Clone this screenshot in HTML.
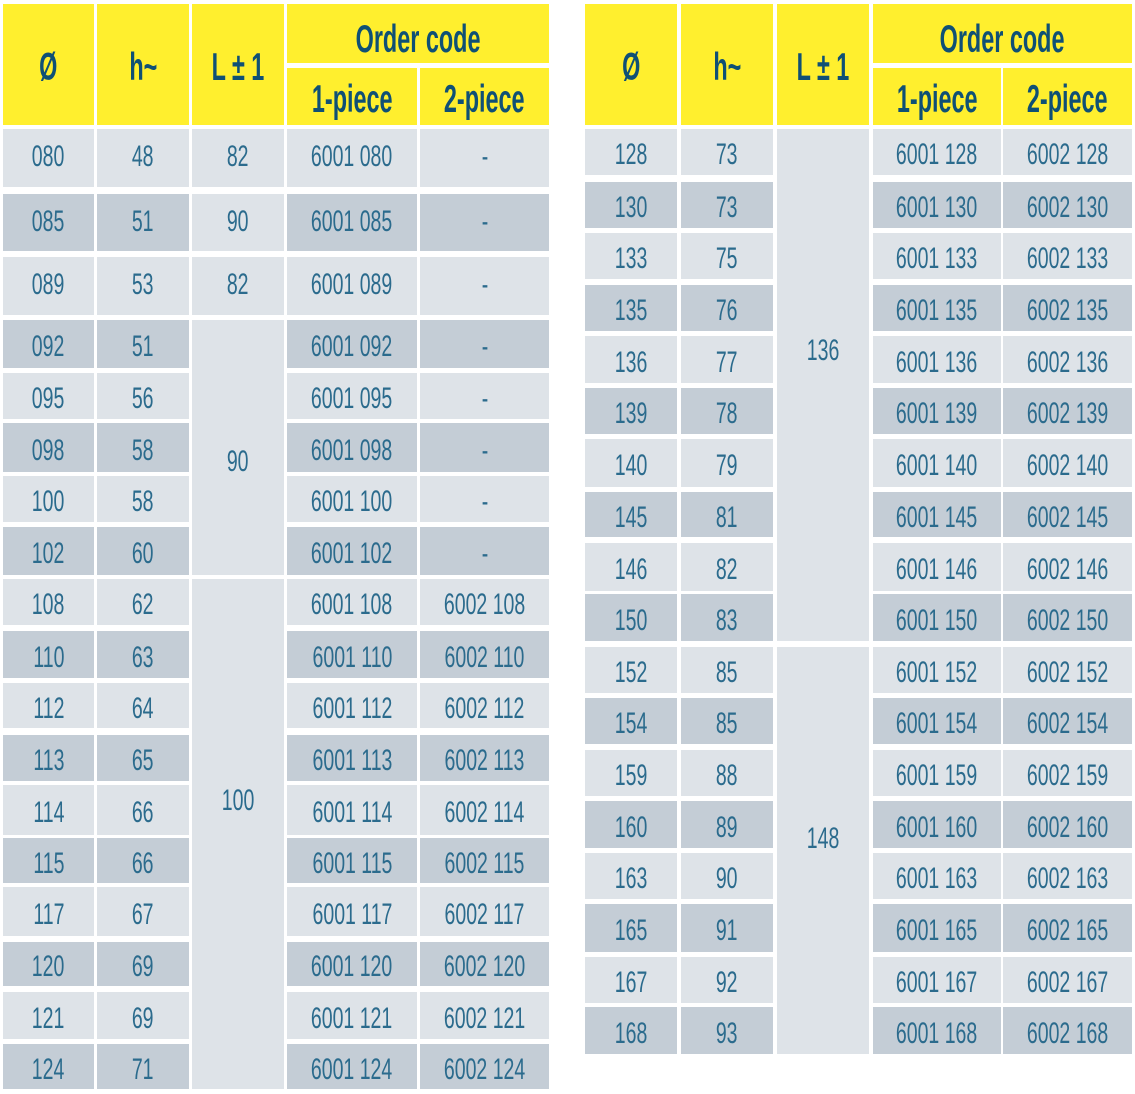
<!DOCTYPE html>
<html>
<head>
<meta charset="utf-8">
<style>
html,body{margin:0;padding:0;background:#fff;}
body{width:1135px;height:1094px;position:relative;overflow:hidden;font-family:"Liberation Sans",sans-serif;}
.c{position:absolute;display:flex;align-items:center;justify-content:center;}
.c span{display:inline-block;white-space:nowrap;transform:scaleX(.65);font-size:30px;color:#2b6b8d;line-height:1;position:relative;}
.r .c span{top:3px;}
.r.tall .c span{top:-1px;}
.h{background:#ffef2e;}
.h span{font-weight:bold;font-size:39px;color:#0f5075;transform:scaleX(.6);top:3px;}
.r{position:absolute;left:0;width:1135px;}
.r .c{top:0;bottom:0;}
.L .c{background:#dee3e8;}
.D .c{background:#c4cdd6;}
.r .c.lt{background:#dee3e8;}
.m{background:#dee3e8;}
.t{background:transparent !important;}
.t span{top:1px;}
.a1{left:3px;width:91px}.a2{left:97px;width:92px}.a3{left:192px;width:92px}.a4{left:287px;width:130px}.a5{left:420px;width:129px}
.b1{left:585px;width:92px}.b2{left:681px;width:92px}.b3{left:777px;width:92px}.b4{left:873px;width:128px}.b5{left:1003px;width:129px}
</style>
</head>
<body>
<!-- Left header -->
<div class="c h a1" style="top:4px;height:121px"><span>Ø</span></div>
<div class="c h a2" style="top:4px;height:121px"><span>h~</span></div>
<div class="c h a3" style="top:4px;height:121px"><span>L ± 1</span></div>
<div class="c h" style="left:287px;width:262px;top:4px;height:59px;padding-top:6px;box-sizing:border-box"><span>Order code</span></div>
<div class="c h a4" style="top:68px;height:57px"><span>1-piece</span></div>
<div class="c h a5" style="top:68px;height:57px"><span>2-piece</span></div>

<!-- Right header -->
<div class="c h b1" style="top:4px;height:121px"><span>Ø</span></div>
<div class="c h b2" style="top:4px;height:121px"><span>h~</span></div>
<div class="c h b3" style="top:4px;height:121px"><span>L ± 1</span></div>
<div class="c h" style="left:873px;width:259px;top:4px;height:59px;padding-top:6px;box-sizing:border-box"><span>Order code</span></div>
<div class="c h b4" style="top:68px;height:57px"><span>1-piece</span></div>
<div class="c h b5" style="top:68px;height:57px"><span>2-piece</span></div>

<!-- Left rows -->
<div class="r L tall" style="top:129px;height:58px"><div class="c a1"><span>080</span></div><div class="c a2"><span>48</span></div><div class="c a3 lt"><span>82</span></div><div class="c a4"><span>6001 080</span></div><div class="c a5"><span>-</span></div></div>
<div class="r D tall" style="top:194px;height:57px"><div class="c a1"><span>085</span></div><div class="c a2"><span>51</span></div><div class="c a3 lt"><span>90</span></div><div class="c a4"><span>6001 085</span></div><div class="c a5"><span>-</span></div></div>
<div class="r L tall" style="top:257px;height:58px"><div class="c a1"><span>089</span></div><div class="c a2"><span>53</span></div><div class="c a3 lt"><span>82</span></div><div class="c a4"><span>6001 089</span></div><div class="c a5"><span>-</span></div></div>
<div class="r D" style="top:320px;height:48px"><div class="c a1"><span>092</span></div><div class="c a2"><span>51</span></div><div class="c a4"><span>6001 092</span></div><div class="c a5"><span>-</span></div></div>
<div class="r L" style="top:373px;height:46px"><div class="c a1"><span>095</span></div><div class="c a2"><span>56</span></div><div class="c a4"><span>6001 095</span></div><div class="c a5"><span>-</span></div></div>
<div class="r D" style="top:423px;height:49px"><div class="c a1"><span>098</span></div><div class="c a2"><span>58</span></div><div class="c a4"><span>6001 098</span></div><div class="c a5"><span>-</span></div></div>
<div class="r L" style="top:476px;height:46px"><div class="c a1"><span>100</span></div><div class="c a2"><span>58</span></div><div class="c a4"><span>6001 100</span></div><div class="c a5"><span>-</span></div></div>
<div class="r D" style="top:527px;height:48px"><div class="c a1"><span>102</span></div><div class="c a2"><span>60</span></div><div class="c a4"><span>6001 102</span></div><div class="c a5"><span>-</span></div></div>
<div class="r L" style="top:579px;height:46px"><div class="c a1"><span>108</span></div><div class="c a2"><span>62</span></div><div class="c a4"><span>6001 108</span></div><div class="c a5"><span>6002 108</span></div></div>
<div class="r D" style="top:631px;height:47px"><div class="c a1"><span>110</span></div><div class="c a2"><span>63</span></div><div class="c a4"><span>6001 110</span></div><div class="c a5"><span>6002 110</span></div></div>
<div class="r L" style="top:683px;height:45px"><div class="c a1"><span>112</span></div><div class="c a2"><span>64</span></div><div class="c a4"><span>6001 112</span></div><div class="c a5"><span>6002 112</span></div></div>
<div class="r D" style="top:735px;height:46px"><div class="c a1"><span>113</span></div><div class="c a2"><span>65</span></div><div class="c a4"><span>6001 113</span></div><div class="c a5"><span>6002 113</span></div></div>
<div class="r L" style="top:785px;height:50px"><div class="c a1"><span>114</span></div><div class="c a2"><span>66</span></div><div class="c a4"><span>6001 114</span></div><div class="c a5"><span>6002 114</span></div></div>
<div class="r D" style="top:838px;height:45px"><div class="c a1"><span>115</span></div><div class="c a2"><span>66</span></div><div class="c a4"><span>6001 115</span></div><div class="c a5"><span>6002 115</span></div></div>
<div class="r L" style="top:887px;height:49px"><div class="c a1"><span>117</span></div><div class="c a2"><span>67</span></div><div class="c a4"><span>6001 117</span></div><div class="c a5"><span>6002 117</span></div></div>
<div class="r D" style="top:942px;height:44px"><div class="c a1"><span>120</span></div><div class="c a2"><span>69</span></div><div class="c a4"><span>6001 120</span></div><div class="c a5"><span>6002 120</span></div></div>
<div class="r L" style="top:992px;height:47px"><div class="c a1"><span>121</span></div><div class="c a2"><span>69</span></div><div class="c a4"><span>6001 121</span></div><div class="c a5"><span>6002 121</span></div></div>
<div class="r D" style="top:1044px;height:45px"><div class="c a1"><span>124</span></div><div class="c a2"><span>71</span></div><div class="c a4"><span>6001 124</span></div><div class="c a5"><span>6002 124</span></div></div>

<!-- Left merged L cells -->
<div class="c m a3" style="top:320px;height:255px"></div>
<div class="c t a3" style="top:441px;height:40px"><span>90</span></div>
<div class="c m a3" style="top:579px;height:510px"></div>
<div class="c t a3" style="top:780px;height:40px"><span>100</span></div>

<!-- Right rows -->
<div class="r L" style="top:129px;height:46px"><div class="c b1"><span>128</span></div><div class="c b2"><span>73</span></div><div class="c b4"><span>6001 128</span></div><div class="c b5"><span>6002 128</span></div></div>
<div class="r D" style="top:182px;height:46px"><div class="c b1"><span>130</span></div><div class="c b2"><span>73</span></div><div class="c b4"><span>6001 130</span></div><div class="c b5"><span>6002 130</span></div></div>
<div class="r L" style="top:233px;height:46px"><div class="c b1"><span>133</span></div><div class="c b2"><span>75</span></div><div class="c b4"><span>6001 133</span></div><div class="c b5"><span>6002 133</span></div></div>
<div class="r D" style="top:285px;height:46px"><div class="c b1"><span>135</span></div><div class="c b2"><span>76</span></div><div class="c b4"><span>6001 135</span></div><div class="c b5"><span>6002 135</span></div></div>
<div class="r L" style="top:336px;height:47px"><div class="c b1"><span>136</span></div><div class="c b2"><span>77</span></div><div class="c b4"><span>6001 136</span></div><div class="c b5"><span>6002 136</span></div></div>
<div class="r D" style="top:388px;height:46px"><div class="c b1"><span>139</span></div><div class="c b2"><span>78</span></div><div class="c b4"><span>6001 139</span></div><div class="c b5"><span>6002 139</span></div></div>
<div class="r L" style="top:439px;height:48px"><div class="c b1"><span>140</span></div><div class="c b2"><span>79</span></div><div class="c b4"><span>6001 140</span></div><div class="c b5"><span>6002 140</span></div></div>
<div class="r D" style="top:492px;height:45px"><div class="c b1"><span>145</span></div><div class="c b2"><span>81</span></div><div class="c b4"><span>6001 145</span></div><div class="c b5"><span>6002 145</span></div></div>
<div class="r L" style="top:543px;height:48px"><div class="c b1"><span>146</span></div><div class="c b2"><span>82</span></div><div class="c b4"><span>6001 146</span></div><div class="c b5"><span>6002 146</span></div></div>
<div class="r D" style="top:594px;height:47px"><div class="c b1"><span>150</span></div><div class="c b2"><span>83</span></div><div class="c b4"><span>6001 150</span></div><div class="c b5"><span>6002 150</span></div></div>
<div class="r L" style="top:647px;height:46px"><div class="c b1"><span>152</span></div><div class="c b2"><span>85</span></div><div class="c b4"><span>6001 152</span></div><div class="c b5"><span>6002 152</span></div></div>
<div class="r D" style="top:698px;height:46px"><div class="c b1"><span>154</span></div><div class="c b2"><span>85</span></div><div class="c b4"><span>6001 154</span></div><div class="c b5"><span>6002 154</span></div></div>
<div class="r L" style="top:750px;height:46px"><div class="c b1"><span>159</span></div><div class="c b2"><span>88</span></div><div class="c b4"><span>6001 159</span></div><div class="c b5"><span>6002 159</span></div></div>
<div class="r D" style="top:801px;height:47px"><div class="c b1"><span>160</span></div><div class="c b2"><span>89</span></div><div class="c b4"><span>6001 160</span></div><div class="c b5"><span>6002 160</span></div></div>
<div class="r L" style="top:853px;height:46px"><div class="c b1"><span>163</span></div><div class="c b2"><span>90</span></div><div class="c b4"><span>6001 163</span></div><div class="c b5"><span>6002 163</span></div></div>
<div class="r D" style="top:904px;height:48px"><div class="c b1"><span>165</span></div><div class="c b2"><span>91</span></div><div class="c b4"><span>6001 165</span></div><div class="c b5"><span>6002 165</span></div></div>
<div class="r L" style="top:957px;height:46px"><div class="c b1"><span>167</span></div><div class="c b2"><span>92</span></div><div class="c b4"><span>6001 167</span></div><div class="c b5"><span>6002 167</span></div></div>
<div class="r D" style="top:1007px;height:47px"><div class="c b1"><span>168</span></div><div class="c b2"><span>93</span></div><div class="c b4"><span>6001 168</span></div><div class="c b5"><span>6002 168</span></div></div>

<!-- Right merged L cells -->
<div class="c m b3" style="top:129px;height:512px"></div>
<div class="c t b3" style="top:330px;height:40px"><span>136</span></div>
<div class="c m b3" style="top:647px;height:407px"></div>
<div class="c t b3" style="top:818px;height:40px"><span>148</span></div>
</body>
</html>
